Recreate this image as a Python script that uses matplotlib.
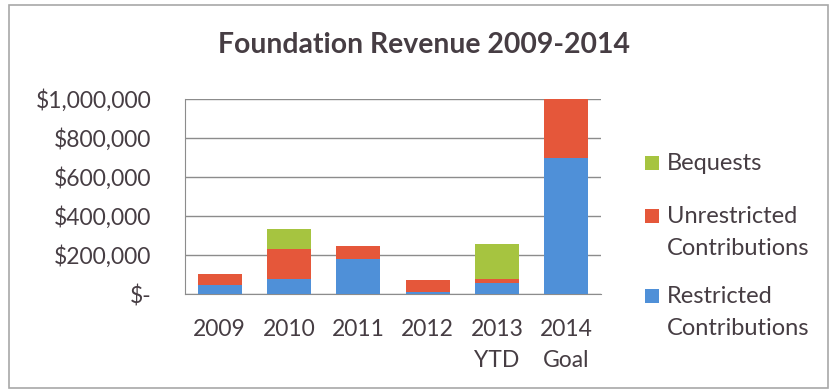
import matplotlib.pyplot as plt
from matplotlib.patches import Rectangle
from matplotlib.ticker import FuncFormatter

# Chart data
years = ["2009", "2010", "2011", "2012", "2013\nYTD", "2014\nGoal"]
restricted = [48000, 77000, 182000, 9000, 55000, 700000]
unrestricted = [55000, 152000, 64000, 61000, 22000, 300000]
bequests = [0, 103000, 0, 0, 179000, 0]
seriesNames = ["Bequests", "Unrestricted\nContributions", "Restricted\nContributions"]

blue = "#4f90d8"
red = "#e5573a"
green = "#a6c440"
textColor = "#463d43"
W, H = 830, 391

plt.rcParams['font.family'] = ['Lato', 'DejaVu Sans']

fig = plt.figure(figsize=(W / 100, H / 100), dpi=100)
ax = fig.add_axes([185 / W, 1 - 294 / H, 416 / W, 195 / H])

x = range(len(years))
bottom2 = [r + u for r, u in zip(restricted, unrestricted)]
ax.bar(x, restricted, width=0.63, color=blue, zorder=3)
ax.bar(x, unrestricted, width=0.63, bottom=restricted, color=red, zorder=3)
ax.bar(x, bequests, width=0.63, bottom=bottom2, color=green, zorder=3)

ax.set_xlim(-0.5, 5.5)
ax.set_ylim(0, 1000000)
ax.set_yticks(range(0, 1000001, 200000))


def money(v, pos):
    if v == 0:
        return "$-"
    return "${:,.0f}".format(v)


ax.yaxis.set_major_formatter(FuncFormatter(money))
ax.set_xticks(list(x))
ax.set_xticklabels(years, linespacing=1.6)
ax.tick_params(axis='both', length=0, labelsize=16.5, colors=textColor)
ax.tick_params(axis='x', pad=18)
ax.tick_params(axis='y', pad=24)
ax.grid(axis='y', color="#8c8c8c", linewidth=1, zorder=0)
ax.spines['top'].set_visible(False)
ax.spines['right'].set_visible(False)
ax.spines['left'].set_color("#8c8c8c")
ax.spines['bottom'].set_color("#8c8c8c")

fig.text(424 / W, 1 - 45 / H, "Foundation Revenue 2009-2014", ha='center', va='center',
         fontsize=20.4, fontweight='bold', color=textColor)

# legend drawn by hand so the swatch sits on the first text line
legendColors = [green, red, blue]
legendY = [163, 216, 296]
for name, col, ly in zip(seriesNames, legendColors, legendY):
    fig.patches.append(Rectangle((645 / W, 1 - (ly + 7) / H), 14 / W, 14 / H,
                                 transform=fig.transFigure, facecolor=col, edgecolor='none'))
    fig.text(667 / W, 1 - (ly - 10) / H, name, ha='left', va='top', fontsize=17,
             color=textColor, linespacing=1.65)

fig.patches.append(Rectangle((9 / W, 3 / H), 819 / W, 383 / H, transform=fig.transFigure,
                             fill=False, edgecolor="#a8a8a8", linewidth=1.2))

fig.savefig("out.png", dpi=100, facecolor="white")
